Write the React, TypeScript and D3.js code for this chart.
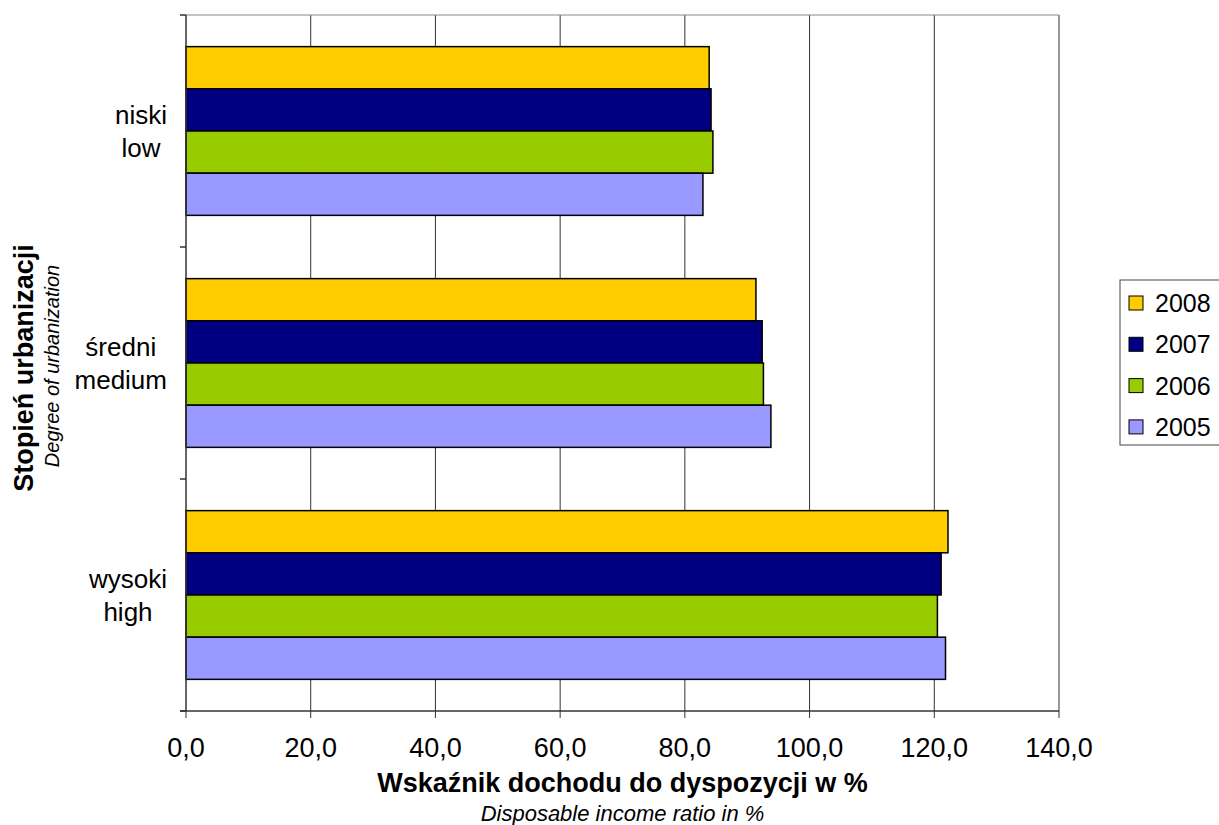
import React from "react";
import * as d3 from "d3";

const categories = ["niski|low", "średni|medium", "wysoki|high"];
const years = ["2008", "2007", "2006", "2005"];
const colors = ["#FFCC00", "#000080", "#99CC00", "#9999FF"];
const values2008 = [83.9, 91.4, 122.2];
const values2007 = [84.2, 92.4, 121.1];
const values2006 = [84.5, 92.6, 120.5];
const values2005 = [82.9, 93.8, 121.8];
const xTicks = [0, 20, 40, 60, 80, 100, 120, 140];

const series = [values2008, values2007, values2006, values2005];

export default function App() {
  const W = 1219, H = 825;
  const left = 186, right = 1059, top = 15, bottom = 711;
  const x = d3.scaleLinear().domain([0, 140]).range([left, right]);
  const y0 = d3.scaleBand().domain(categories).range([top, bottom]).paddingInner(0).paddingOuter(0);
  const bandW = y0.bandwidth();
  const groupH = bandW * 4 / 5.5;
  const y1 = d3.scaleBand().domain(years).range([0, groupH]);
  const font = "'Liberation Sans', Arial, sans-serif";
  const fmt = (v: number) => v.toFixed(1).replace(".", ",");
  const bounds = [top, ...categories.map((c) => (y0(c) as number) + bandW)];
  const labelFs = 26;
  const measure = (s: string) => {
    if (typeof document === "undefined") return s.length * labelFs * 0.5;
    const cv = document.createElement("canvas").getContext("2d");
    if (!cv) return s.length * labelFs * 0.5;
    cv.font = `${labelFs}px 'Liberation Sans', Arial, sans-serif`;
    return cv.measureText(s).width;
  };
  const blockRight = 167;

  return (
    <svg width={W} height={H} style={{ position: "absolute", left: 0, top: 0, background: "#fff" }} fontFamily={font}>
      {/* gridlines */}
      {xTicks.slice(1).map((t) => (
        <line key={"g" + t} x1={x(t)} x2={x(t)} y1={top} y2={bottom} stroke="#333" strokeWidth={1} />
      ))}
      <line x1={left} x2={right} y1={top} y2={top} stroke="#888" strokeWidth={1} />
      {/* bars */}
      {categories.map((c) => {
        const gTop = (y0(c) as number) + (bandW - groupH) / 2;
        return years.map((yr, i) => (
          <rect
            key={c + yr}
            x={x(0)}
            y={gTop + (y1(yr) as number)}
            width={x(series[i][categories.indexOf(c)]) - x(0)}
            height={y1.bandwidth()}
            fill={colors[i]}
            stroke="#000"
            strokeWidth={1.5}
          />
        ));
      })}
      {/* y axis */}
      <line x1={left} x2={left} y1={top} y2={bottom} stroke="#333" strokeWidth={1.5} />
      {bounds.map((b, i) => (
        <line key={"yt" + i} x1={left - 6} x2={left} y1={b} y2={b} stroke="#333" strokeWidth={1.5} />
      ))}
      {/* x axis */}
      <line x1={left - 6} x2={right} y1={bottom} y2={bottom} stroke="#333" strokeWidth={1.5} />
      {xTicks.map((t) => (
        <g key={"xt" + t}>
          <line x1={x(t)} x2={x(t)} y1={bottom} y2={bottom + 7} stroke="#333" strokeWidth={1} />
          <text x={x(t)} y={757} textAnchor="middle" fontSize={27} fill="#000">
            {fmt(t)}
          </text>
        </g>
      ))}
      {/* category labels */}
      {categories.map((c) => {
        const [pl, en] = c.split("|");
        const cy = (y0(c) as number) + bandW / 2;
        const bw = Math.max(measure(pl), measure(en));
        const cx = blockRight - bw / 2;
        return (
          <text key={"cl" + c} textAnchor="middle" fontSize={labelFs} fill="#000">
            <tspan x={cx} y={cy - 7}>{pl}</tspan>
            <tspan x={cx} y={cy + 26}>{en}</tspan>
          </text>
        );
      })}
      {/* axis titles */}
      <text x={(left + right) / 2} y={792} textAnchor="middle" fontSize={27} fontWeight="bold" fill="#000">
        Wskaźnik dochodu do dyspozycji w %
      </text>
      <text x={(left + right) / 2} y={821} textAnchor="middle" fontSize={22} fontStyle="italic" fill="#000">
        Disposable income ratio in %
      </text>
      <text transform={`translate(33, 368) rotate(-90)`} textAnchor="middle" fontSize={27} fontWeight="bold" fill="#000">
        Stopień urbanizacji
      </text>
      <text transform={`translate(59, 366) rotate(-90)`} textAnchor="middle" fontSize={20} fontStyle="italic" fill="#000">
        Degree of urbanization
      </text>
      {/* legend */}
      <rect x={1120} y={280} width={110} height={165} fill="#fff" stroke="#444" strokeWidth={1} />
      {years.map((yr, i) => (
        <g key={"lg" + yr}>
          <rect x={1129} y={296 + i * 41.3} width={14} height={14} fill={colors[i]} stroke="#000" strokeWidth={1} />
          <text x={1155} y={312 + i * 41.3} fontSize={25} fill="#000">
            {yr}
          </text>
        </g>
      ))}
    </svg>
  );
}
